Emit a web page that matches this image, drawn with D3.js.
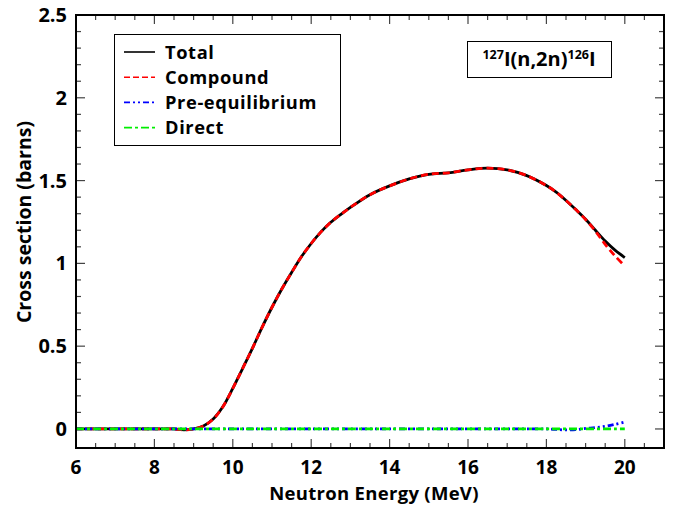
<!DOCTYPE html>
<html>
<head>
<meta charset="utf-8">
<script src="https://cdn.jsdelivr.net/npm/d3@7"></script>
<style>
  body { margin: 0; background: #fff; }
  text { font-family: 'Open Sans', 'DejaVu Sans', sans-serif; font-weight: 700; }
</style>
</head>
<body>
<div id="chart"></div>
<script>
// Neutron energies (MeV)
const energy = [6, 6.5, 7, 7.5, 8, 8.5, 8.75, 9, 9.25, 9.5, 9.75, 10, 10.25, 10.5, 10.75, 11,
  11.25, 11.5, 11.75, 12, 12.25, 12.5, 12.75, 13, 13.5, 14, 14.5, 15, 15.5, 16, 16.5, 17,
  17.5, 18, 18.25, 18.5, 18.75, 19, 19.25, 19.5, 19.75, 20];

// Cross sections (barns)
const compound = [0, 0, 0, 0, 0, 0, -0.006, 0, 0.018, 0.06, 0.135, 0.245, 0.365, 0.487, 0.615, 0.735,
  0.845, 0.945, 1.04, 1.12, 1.19, 1.248, 1.295, 1.338, 1.415, 1.468, 1.51, 1.538, 1.547, 1.565, 1.575, 1.565,
  1.53, 1.47, 1.43, 1.38, 1.325, 1.265, 1.195, 1.115, 1.045, 0.985];
const total = [0, 0, 0, 0, 0, 0, -0.006, 0, 0.018, 0.06, 0.135, 0.245, 0.365, 0.487, 0.615, 0.735,
  0.845, 0.945, 1.04, 1.12, 1.19, 1.248, 1.295, 1.338, 1.415, 1.468, 1.51, 1.538, 1.547, 1.565, 1.575, 1.565,
  1.53, 1.47, 1.43, 1.38, 1.325, 1.267, 1.2, 1.135, 1.08, 1.035];
const preEq = [0, 0, 0, 0, 0, 0, 0, 0, 0, 0, 0, 0, 0, 0, 0, 0,
  0, 0, 0, 0, 0, 0, 0, 0, 0, 0, 0, 0, 0, 0, 0, 0,
  0, 0, -0.003, -0.006, -0.004, 0.003, 0.008, 0.016, 0.028, 0.042];
const direct = energy.map(() => 0);

const xTicks = [6, 8, 10, 12, 14, 16, 18, 20];
const yTicks = [0, 0.5, 1, 1.5, 2, 2.5];

const series = [
  { name: 'Total', values: total, color: '#000', dash: null },
  { name: 'Compound', values: compound, color: '#ff0000', dash: '7,4' },
  { name: 'Pre-equilibrium', values: preEq, color: '#0000ff', dash: '6,3,2,3,2,3' },
  { name: 'Direct', values: direct, color: '#00ee00', dash: '8,3,3,3' },
];

const W = 675, H = 506;
const m = { left: 76, right: 11, top: 15, bottom: 58 };

const svg = d3.select('#chart').append('svg').attr('width', W).attr('height', H);

const x = d3.scaleLinear().domain([6, 21]).range([m.left, W - m.right]);
const y = d3.scaleLinear().domain([-0.115, 2.5]).range([H - m.bottom, m.top]);

// Inward ticks on all four sides
const minorX = d3.range(6, 21.01, 0.5);
const minorY = d3.range(0, 2.501, 0.1);
const tickG = svg.append('g').attr('stroke', '#444').attr('stroke-width', 1.2);
minorX.forEach((v) => {
  const len = Math.abs(v % 2) < 1e-6 ? 9 : 5;
  tickG.append('line').attr('x1', x(v)).attr('x2', x(v)).attr('y1', y.range()[0]).attr('y2', y.range()[0] - len);
  tickG.append('line').attr('x1', x(v)).attr('x2', x(v)).attr('y1', y.range()[1]).attr('y2', y.range()[1] + len);
});
minorY.forEach((v) => {
  const len = Math.abs((v * 10) % 5) < 1e-6 ? 9 : 5;
  tickG.append('line').attr('y1', y(v)).attr('y2', y(v)).attr('x1', x.range()[0]).attr('x2', x.range()[0] + len);
  tickG.append('line').attr('y1', y(v)).attr('y2', y(v)).attr('x1', x.range()[1]).attr('x2', x.range()[1] - len);
});

// Tick labels
svg.append('g').selectAll('text').data(xTicks).enter().append('text')
  .attr('x', (d) => x(d)).attr('y', 474)
  .attr('text-anchor', 'middle').attr('font-size', 19)
  .text((d) => d);
svg.append('g').selectAll('text').data(yTicks).enter().append('text')
  .attr('x', 67).attr('y', (d) => y(d) + 7)
  .attr('text-anchor', 'end').attr('font-size', 20)
  .text((d) => d);

// Curves
const line = d3.line().curve(d3.curveCatmullRom)
  .x((d, i) => x(energy[i])).y((d) => y(d));
const plot = svg.append('g');
series.forEach((s) => {
  plot.append('path').datum(s.values)
    .attr('d', line)
    .attr('fill', 'none')
    .attr('stroke', s.color)
    .attr('stroke-width', 2.8)
    .attr('stroke-dasharray', s.dash);
});

// Frame
svg.append('rect')
  .attr('x', x.range()[0]).attr('y', y.range()[1])
  .attr('width', x.range()[1] - x.range()[0]).attr('height', y.range()[0] - y.range()[1])
  .attr('fill', 'none').attr('stroke', '#000').attr('stroke-width', 2);

// Axis titles
svg.append('text')
  .attr('x', 374).attr('y', 500)
  .attr('text-anchor', 'middle').attr('font-size', 18.5)
  .attr('letter-spacing', 0.3)
  .text('Neutron Energy (MeV)');
svg.append('text')
  .attr('transform', 'translate(31, 222) rotate(-90)')
  .attr('text-anchor', 'middle').attr('font-size', 19.5)
  .text('Cross section (barns)');

// Legend
const legend = svg.append('g');
legend.append('rect')
  .attr('x', 114.5).attr('y', 34.5).attr('width', 226).attr('height', 111)
  .attr('fill', '#fff').attr('stroke', '#000').attr('stroke-width', 1);
series.forEach((s, i) => {
  const ly = 52 + i * 25.2;
  legend.append('line')
    .attr('x1', 124).attr('x2', 155).attr('y1', ly).attr('y2', ly)
    .attr('stroke', s.color).attr('stroke-width', 1.6)
    .attr('stroke-dasharray', s.dash ? (i === 1 ? '6,3' : s.dash) : null);
  legend.append('text')
    .attr('x', 165).attr('y', ly + 6.5)
    .attr('font-size', 18.3)
    .attr('letter-spacing', 0.6)
    .text(s.name);
});

// Reaction label
const lab = svg.append('g');
lab.append('rect')
  .attr('x', 467.5).attr('y', 41.5).attr('width', 144).attr('height', 36)
  .attr('fill', '#fff').attr('stroke', '#000').attr('stroke-width', 1);
const t = lab.append('text').attr('x', 539).attr('y', 66).attr('text-anchor', 'middle').attr('font-size', 20);
t.append('tspan').attr('font-size', 12.5).attr('dy', -7).text('127');
t.append('tspan').attr('dy', 7).text('I(n,2n)');
t.append('tspan').attr('font-size', 12.5).attr('dy', -7).text('126');
t.append('tspan').attr('dy', 7).text('I');
</script>
</body>
</html>
